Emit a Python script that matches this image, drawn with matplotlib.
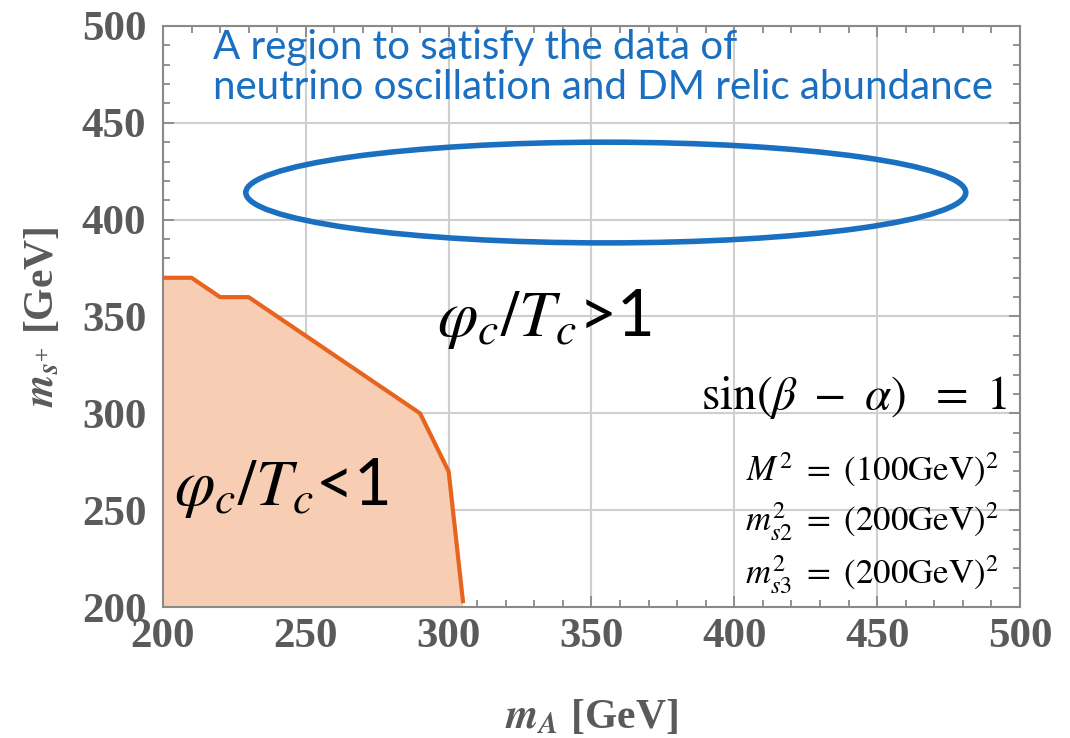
import matplotlib.pyplot as plt
from matplotlib.patches import Ellipse, Polygon
from matplotlib.ticker import MultipleLocator

plt.rcParams['mathtext.fontset'] = 'stix'

# boundary of the phi_c/T_c < 1 region (m_A, m_s+) in GeV
boundary_mA = [200, 210, 220, 230, 290, 300, 305]
boundary_ms = [370, 370, 360, 360, 300, 270, 203]

# ellipse marking the region favoured by neutrino + DM data
ell_center = (355, 414)
ell_width = 252
ell_height = 52

xticks = [200, 250, 300, 350, 400, 450, 500]
yticks = [200, 250, 300, 350, 400, 450, 500]

tick_gray = '#5a5a5a'
frame_gray = '#8a8a8a'
orange = '#e8641e'
fill_orange = '#f7cdb3'
blue = '#1a6fc0'

fig = plt.figure(figsize=(10.7, 7.38), dpi=100)
ax = fig.add_axes([0.1523, 0.1775, 0.8010, 0.7873])

ax.set_xlim(200, 500)
ax.set_ylim(200, 500)

# shaded region below the boundary
poly_x = boundary_mA + [boundary_mA[-1], 200]
poly_y = boundary_ms + [200, 200]
ax.add_patch(Polygon(list(zip(poly_x, poly_y)), closed=True,
                     facecolor=fill_orange, edgecolor='none', zorder=1))
ax.plot(boundary_mA, boundary_ms, color=orange, lw=3, zorder=3,
        solid_joinstyle='round')

ax.add_patch(Ellipse(ell_center, ell_width, ell_height, fill=False,
                     edgecolor=blue, lw=4, zorder=4))

# grid / frame
ax.grid(True, which='major', color='#cfcfcf', lw=1.5)
ax.set_axisbelow(True)
for sp in ax.spines.values():
    sp.set_color(frame_gray)
    sp.set_linewidth(1.5)

ax.set_xticks(xticks)
ax.set_yticks(yticks)
ax.xaxis.set_minor_locator(MultipleLocator(10))
ax.yaxis.set_minor_locator(MultipleLocator(10))
ax.tick_params(which='both', direction='in', top=True, right=True,
               color=frame_gray, width=1.3)
ax.tick_params(which='major', length=8, pad=8)
ax.tick_params(which='minor', length=5)
ax.tick_params(axis='y', pad=12)
for lab in ax.get_xticklabels() + ax.get_yticklabels():
    lab.set_fontfamily('Liberation Serif')
    lab.set_fontweight('bold')
    lab.set_fontsize(31)
    lab.set_color(tick_gray)

ax.set_xlabel(r'$\mathbfit{m}_{\mathbfit{A}}$ [GeV]', fontsize=30, family='Liberation Serif',
              fontweight='bold', color=tick_gray, labelpad=30)
ax.set_ylabel(r'$\mathbfit{m}_{\mathbfit{s}^{+}}$ [GeV]', fontsize=30, family='Liberation Serif',
              fontweight='bold', color=tick_gray, labelpad=14)

# annotations
ax.text(0.058, 0.995, 'A region to satisfy the data of\nneutrino oscillation and DM relic abundance',
        transform=ax.transAxes, ha='left', va='top', color=blue,
        fontsize=29, family='Lato', linespacing=1.1, zorder=5)

ax.text(0.32, 0.495, r'$\varphi_c/T_c$>1', transform=ax.transAxes,
        fontsize=47, family='Lato', ha='left', va='center', zorder=5)
ax.text(0.013, 0.205, r'$\varphi_c/T_c$<1', transform=ax.transAxes,
        fontsize=47, family='Lato', ha='left', va='center', zorder=5)

ax.text(0.985, 0.36, r'$\mathrm{sin}(\beta\ -\ \alpha)\ \ =\ 1$', transform=ax.transAxes,
        fontsize=34, ha='right', va='center', zorder=5)
ax.text(0.975, 0.236, r'$M^2\ =\ (100\mathrm{GeV})^2$', transform=ax.transAxes,
        fontsize=25, ha='right', va='center', zorder=5)
ax.text(0.975, 0.146, r'$m_{s2}^2\ =\ (200\mathrm{GeV})^2$', transform=ax.transAxes,
        fontsize=25, ha='right', va='center', zorder=5)
ax.text(0.975, 0.055, r'$m_{s3}^2\ =\ (200\mathrm{GeV})^2$', transform=ax.transAxes,
        fontsize=25, ha='right', va='center', zorder=5)

# cropped caption at the bottom edge of the slide (only its top shows)
fig.text(0.0, -0.066, 'Fig.  1', color=blue, fontsize=42, fontweight='bold',
         family='Lato', ha='left', va='baseline')

fig.savefig('out.png', dpi=100)
